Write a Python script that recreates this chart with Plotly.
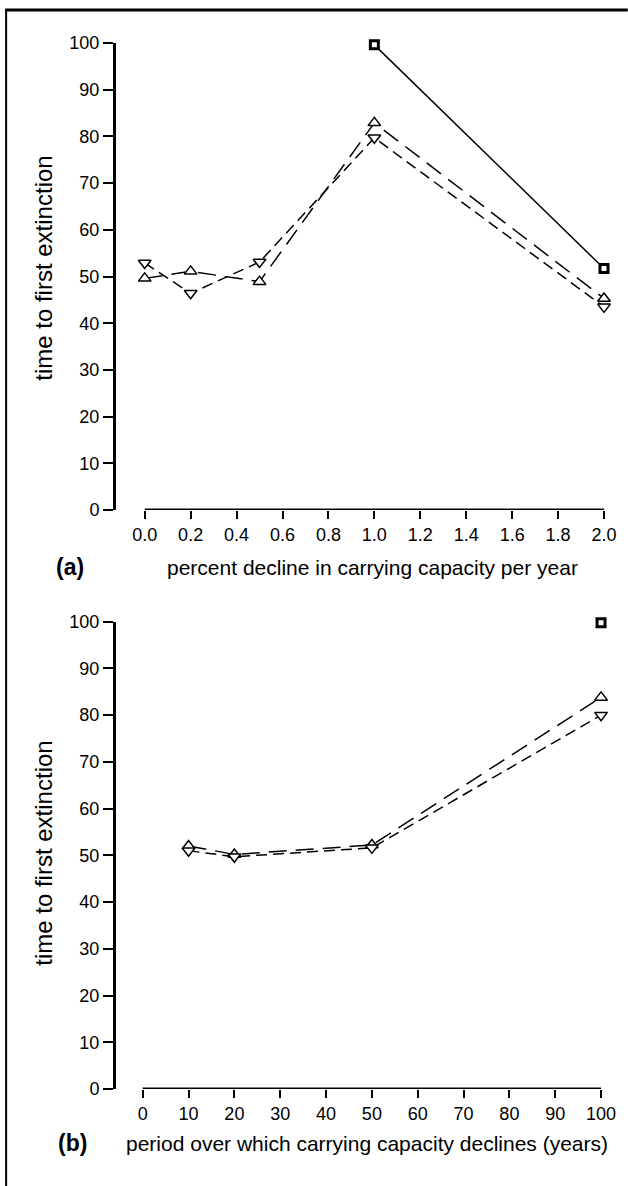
import plotly.graph_objects as go

# ---- data ----
# (a) percent decline in carrying capacity per year
pct_decline = [0.0, 0.2, 0.5, 1.0, 2.0]
a_up = [49.6, 51.1, 48.9, 82.9, 45.3]       # open triangles, long dashes
a_down = [52.9, 46.4, 53.1, 79.7, 43.5]     # inverted triangles, short dashes
a_sq_x = [1.0, 2.0]
a_sq = [99.6, 51.7]                          # squares, solid line
a_ticks = [0.0, 0.2, 0.4, 0.6, 0.8, 1.0, 1.2, 1.4, 1.6, 1.8, 2.0]

# (b) period over which carrying capacity declines (years)
period_years = [10, 20, 50, 100]
b_up = [52.0, 50.2, 52.2, 83.8]
b_down = [51.0, 49.7, 51.6, 80.0]
b_sq_x = [100]
b_sq = [99.8]
b_ticks = [0, 10, 20, 30, 40, 50, 60, 70, 80, 90, 100]

y_ticks = [0, 10, 20, 30, 40, 50, 60, 70, 80, 90, 100]

# ---- page geometry (pixels) ----
W, H = 628, 1186
ML, MR, MT, MB = 116, 16, 43, 97


def px(x):
    return (x - ML) / (W - ML - MR)


def py(y):
    return (H - MB - y) / (H - MT - MB)


FONT = "Liberation Sans, Arial, Helvetica, sans-serif"
BLACK = "#000000"

up_marker = dict(symbol="triangle-up", size=11, color="white",
                 line=dict(color=BLACK, width=1.5))
down_marker = dict(symbol="triangle-down", size=11, color="white",
                   line=dict(color=BLACK, width=1.5))
sq_marker = dict(symbol="square", size=8, color="white",
                 line=dict(color=BLACK, width=3))

long_dash = dict(color=BLACK, width=1.5, dash="18px,9px")
short_dash = dict(color=BLACK, width=1.5, dash="11px,6px")
solid = dict(color=BLACK, width=1.5)

fig = go.Figure()

# panel (a)
fig.add_trace(go.Scatter(x=a_sq_x, y=a_sq, mode="lines+markers", line=solid,
                         marker=sq_marker, xaxis="x", yaxis="y", cliponaxis=False))
fig.add_trace(go.Scatter(x=pct_decline, y=a_up, mode="lines+markers", line=long_dash,
                         marker=up_marker, xaxis="x", yaxis="y", cliponaxis=False))
fig.add_trace(go.Scatter(x=pct_decline, y=a_down, mode="lines+markers", line=short_dash,
                         marker=down_marker, xaxis="x", yaxis="y", cliponaxis=False))

# panel (b)
fig.add_trace(go.Scatter(x=b_sq_x, y=b_sq, mode="markers",
                         marker=sq_marker, xaxis="x2", yaxis="y2", cliponaxis=False))
fig.add_trace(go.Scatter(x=period_years, y=b_up, mode="lines+markers", line=long_dash,
                         marker=up_marker, xaxis="x2", yaxis="y2", cliponaxis=False))
fig.add_trace(go.Scatter(x=period_years, y=b_down, mode="lines+markers", line=short_dash,
                         marker=down_marker, xaxis="x2", yaxis="y2", cliponaxis=False))

tick_font = dict(family=FONT, size=18, color=BLACK)

xcommon = dict(showgrid=False, zeroline=False, showline=False, ticks="outside",
               ticklen=8, tickwidth=2, tickcolor=BLACK, tickfont=tick_font)
ycommon = dict(showgrid=False, zeroline=False, showline=True, linewidth=3,
               linecolor=BLACK, ticks="outside", ticklen=10, tickwidth=2,
               tickcolor=BLACK, tickfont=tick_font, range=[0, 100],
               tickvals=y_ticks)

fig.update_layout(
    width=W, height=H,
    margin=dict(l=ML, r=MR, t=MT, b=MB),
    paper_bgcolor="white", plot_bgcolor="white",
    showlegend=False,
    font=dict(family=FONT, color=BLACK),
    xaxis=dict(domain=[0, 1], anchor="y", range=[px(116) * 0 - 0.125, 2.013],
               tickvals=a_ticks, tickformat=".1f", **xcommon),
    yaxis=dict(domain=[py(510), 1], anchor="x", **ycommon),
    xaxis2=dict(domain=[0, 1], anchor="y2", range=[-5.83, 101.3],
                tickvals=b_ticks, **xcommon),
    yaxis2=dict(domain=[0, py(621.7)], anchor="x2", **ycommon),
)

# x-axis baselines span only the tick range
fig.add_shape(type="line", xref="x", yref="y", x0=a_ticks[0], x1=a_ticks[-1],
              y0=0, y1=0, line=dict(color=BLACK, width=3))
fig.add_shape(type="line", xref="x2", yref="y2", x0=b_ticks[0], x1=b_ticks[-1],
              y0=0, y1=0, line=dict(color=BLACK, width=3))

# outer frame (left and top edges)
fig.add_shape(type="line", xref="paper", yref="paper", x0=px(5), x1=px(5),
              y0=py(10), y1=py(H + 5), line=dict(color=BLACK, width=2))
fig.add_shape(type="line", xref="paper", yref="paper", x0=px(4), x1=px(W + 5),
              y0=py(10), y1=py(10), line=dict(color=BLACK, width=3))

title_font = dict(family=FONT, size=21, color=BLACK)
ytitle_font = dict(family=FONT, size=24, color=BLACK)
label_font = dict(family=FONT, size=23, color=BLACK)

annotations = [
    dict(text="percent decline in carrying capacity per year", x=px(375.5), y=py(567),
         font=title_font),
    dict(text="period over which carrying capacity declines (years)", x=px(370), y=py(1143),
         font=title_font),
    dict(text="time to first extinction", x=px(42), y=py(268), textangle=-90,
         font=ytitle_font),
    dict(text="time to first extinction", x=px(42), y=py(853), textangle=-90,
         font=ytitle_font),
    dict(text="<b>(a)</b>", x=px(70), y=py(567), font=label_font),
    dict(text="<b>(b)</b>", x=px(72), y=py(1143), font=label_font),
]
for a in annotations:
    a.update(xref="paper", yref="paper", showarrow=False, xanchor="center",
             yanchor="middle")
fig.update_layout(annotations=annotations)

fig.write_html("out.html")
